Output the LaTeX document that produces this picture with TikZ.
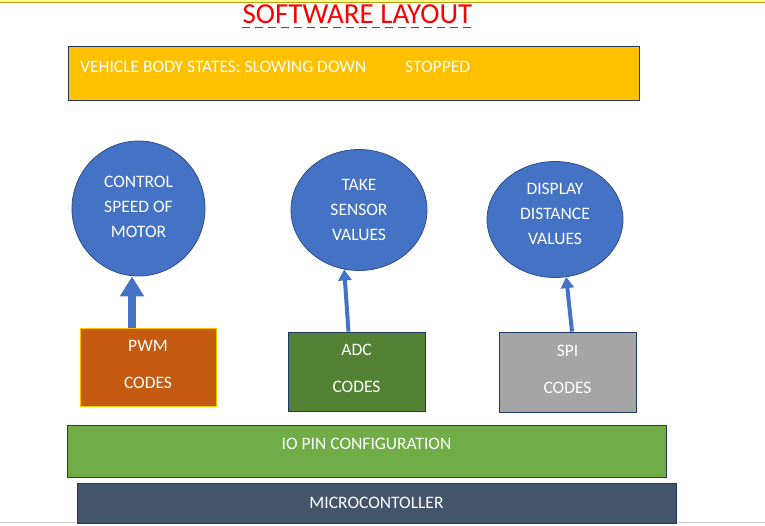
\documentclass[tikz,border=0pt]{standalone}
\usepackage{fontspec}
\setmainfont{Carlito}
\usetikzlibrary{shapes.geometric,arrows.meta}
\definecolor{gold}{HTML}{FFC000}
\definecolor{navy}{HTML}{1F3864}
\definecolor{cblue}{HTML}{4472C4}
\definecolor{cborder}{HTML}{2F4E86}
\definecolor{rust}{HTML}{C55A11}
\definecolor{dgreen}{HTML}{548235}
\definecolor{lgreen}{HTML}{70AD47}
\definecolor{grey}{HTML}{A5A5A5}
\definecolor{slate}{HTML}{44546A}
\definecolor{topline}{HTML}{BEA014}
\definecolor{botline}{HTML}{C8C8C8}
\tikzset{
  txt/.style={text=white,font=\fontsize{17.5pt}{25pt}\selectfont,inner sep=0pt},
  bubble/.style={ellipse,draw=cborder,fill=cblue,line width=0.8pt,txt,align=center,inner sep=0pt},
  codebox/.style={rectangle,line width=0.8pt,txt,align=center,font=\fontsize{17.5pt}{37pt}\selectfont,text depth=6pt},
  barbox/.style={rectangle,draw=navy,line width=0.8pt,txt},
  thinarrow/.style={draw=cblue,line width=4pt,-{Triangle[width=13pt,length=11pt]}},
}
\begin{document}
\begin{tikzpicture}[x=1pt,y=-1pt]
\useasboundingbox (0,0) rectangle (765,525);
% frame lines of the page
\fill[yellow!45!white] (0,0) rectangle (765,2.5);
\draw[topline,line width=0.8pt] (0,2.8) -- (765,2.8);
\draw[botline,line width=1.5pt] (0,522.5) -- (765,522.5);
% title
\node[text=red,font=\fontsize{29pt}{32pt}\selectfont,inner sep=0pt] (title) at (357.5,14) {SOFTWARE LAYOUT};
\draw[red,line width=1pt,dash pattern=on 8pt off 5pt] (242,27) -- (474,27);
% vehicle states bar
\node[rectangle,draw=navy,fill=gold,line width=0.8pt,minimum width=571pt,minimum height=54pt,inner sep=0pt] (states) at (353.5,73) {};
\node[txt,anchor=west] (st1) at (80,67) {VEHICLE BODY STATES: SLOWING DOWN};
\node[txt,anchor=west] (st2) at (405,67) {STOPPED};
% bubbles
\node[bubble,minimum width=133pt,minimum height=135pt,text depth=4pt] (c1) at (138.5,208.5) {CONTROL\\SPEED OF\\MOTOR};
\node[bubble,minimum width=136pt,minimum height=121pt] (c2) at (359,210) {TAKE\\SENSOR\\VALUES};
\node[bubble,minimum width=136pt,minimum height=116pt,text depth=12pt] (c3) at (555,219.5) {DISPLAY\\DISTANCE\\VALUES};
% code boxes
\node[codebox,draw=gold,fill=rust,minimum width=136pt,minimum height=78pt] (pwm) at (148,367) {PWM\\CODES};
\node[codebox,draw=navy,fill=dgreen,minimum width=137pt,minimum height=79pt] (adc) at (356.5,371.5) {ADC\\CODES};
\node[codebox,draw=navy,fill=grey,minimum width=137pt,minimum height=80pt] (spi) at (567.5,372) {SPI\\CODES};
% bars
\node[barbox,fill=lgreen,minimum width=599pt,minimum height=52pt] (io) at (366.5,451) {};
\node[txt] (iot) at (366.5,444) {IO PIN CONFIGURATION};
\node[barbox,fill=slate,minimum width=599pt,minimum height=40pt] (mc) at (376.5,503) {MICROCONTOLLER};
% arrows
\coordinate (pwmtop) at ([xshift=-16pt]pwm.north);
\draw[draw=cblue,line width=8pt,-{Triangle[width=23pt,length=20pt]}] (pwmtop) -- (pwmtop |- c1.south);
\draw[thinarrow] ([xshift=-8pt]adc.north) -- (c2.256);
\draw[thinarrow] ([xshift=4.5pt]spi.north) -- (c3.281);
\end{tikzpicture}
\end{document}
